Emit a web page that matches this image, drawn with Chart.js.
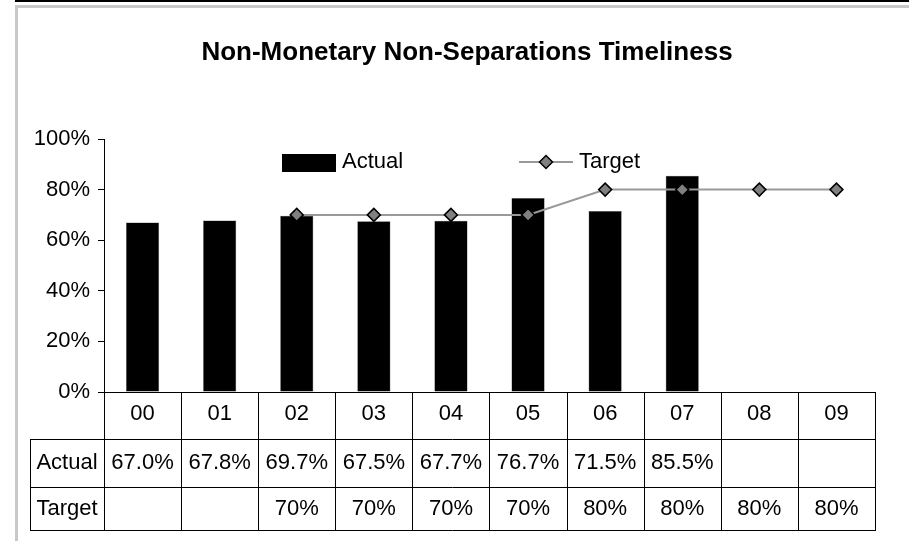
<!DOCTYPE html>
<html>
<head>
<meta charset="utf-8">
<style>
  html, body { margin: 0; padding: 0; background: #fff; }
  #wrap { width: 909px; height: 541px; }
</style>
</head>
<body>
<div id="wrap"><canvas id="myChart" width="909" height="541"></canvas></div>

<script src="https://cdn.jsdelivr.net/npm/chart.js"></script>
<script>
    // chart data
    const categories = ['00', '01', '02', '03', '04', '05', '06', '07', '08', '09']
    const actual = [67.0, 67.8, 69.7, 67.5, 67.7, 76.7, 71.5, 85.5, null, null]
    const target = [null, null, 70, 70, 70, 70, 80, 80, 80, 80]
    const yTicks = [0, 20, 40, 60, 80, 100]
    const titleText = 'Non-Monetary Non-Separations Timeliness'

    const FONT = '"Liberation Sans", Arial, sans-serif'

    // frame, title, legend and the data table under the axis
    const excelBits = {
        id: 'excelBits',
        beforeDraw(chart) {
            const c = chart.ctx
            c.save()
            c.fillStyle = '#fff'
            c.fillRect(0, 0, chart.width, chart.height)
            c.fillStyle = '#000'
            c.fillRect(15, 0, chart.width - 15, 2)
            c.strokeStyle = '#c8c8c8'
            c.lineWidth = 3
            c.strokeRect(16.5, 6.5, chart.width + 20, chart.height + 20)
            c.restore()
        },
        afterDraw(chart) {
            const c = chart.ctx
            const x = chart.scales.x
            const area = chart.chartArea
            c.save()

            // title
            c.fillStyle = '#000'
            c.font = 'bold 26px ' + FONT
            c.textAlign = 'center'
            c.textBaseline = 'middle'
            c.fillText(titleText, 467, 53)

            // legend
            c.font = '22px ' + FONT
            c.textAlign = 'left'
            c.fillStyle = '#000'
            c.fillRect(282, 154, 54, 18)
            c.fillText('Actual', 342, 162)
            c.strokeStyle = '#999'
            c.lineWidth = 2
            c.beginPath()
            c.moveTo(519, 162); c.lineTo(573, 162)
            c.stroke()
            c.beginPath()
            c.moveTo(546, 155.5); c.lineTo(552.5, 162); c.lineTo(546, 168.5); c.lineTo(539.5, 162)
            c.closePath()
            c.fillStyle = '#808080'
            c.fill()
            c.strokeStyle = '#000'
            c.lineWidth = 1.5
            c.stroke()
            c.fillStyle = '#000'
            c.fillText('Target', 579, 162)

            // data table
            const y0 = area.bottom, y1 = 439, y2 = 487, y3 = 530
            const labL = 30
            const half = (x.getPixelForValue(1) - x.getPixelForValue(0)) / 2
            c.strokeStyle = '#000'
            c.lineWidth = 1
            c.beginPath()
            c.moveTo(area.left, y0 + 0.5); c.lineTo(area.right, y0 + 0.5)
            ;[y1, y2, y3].forEach(yy => { c.moveTo(labL, yy + 0.5); c.lineTo(area.right, yy + 0.5) })
            c.moveTo(labL + 0.5, y1); c.lineTo(labL + 0.5, y3)
            for (let i = 0; i <= categories.length; i++) {
                const bx = Math.round(x.getPixelForValue(0) - half + i * half * 2) + 0.5
                c.moveTo(bx, y0); c.lineTo(bx, y3 + 1)
            }
            c.stroke()

            c.fillStyle = '#000'
            c.font = '22px ' + FONT
            c.textAlign = 'center'
            c.textBaseline = 'middle'
            c.fillText('Actual', (labL + area.left) / 2, (y1 + y2) / 2)
            c.fillText('Target', (labL + area.left) / 2, (y2 + y3) / 2)
            categories.forEach((cat, i) => {
                const cx = x.getPixelForValue(i)
                c.fillText(cat, cx, (y0 + y1) / 2 - 2)
                if (actual[i] != null) c.fillText(actual[i].toFixed(1) + '%', cx, (y1 + y2) / 2)
                if (target[i] != null) c.fillText(target[i] + '%', cx, (y2 + y3) / 2)
            })
            c.restore()
        }
    }

    var ctx = document.getElementById('myChart')

    var myChart = new Chart(ctx, {
        data: {
            labels: categories,
            datasets: [{
                type: 'line',
                label: 'Target',
                data: target,
                order: 1,
                borderColor: '#999999',
                borderWidth: 2,
                pointStyle: 'rectRot',
                pointRadius: 6.5,
                pointBackgroundColor: '#808080',
                pointBorderColor: '#000',
                pointBorderWidth: 1.5,
                tension: 0
            }, {
                type: 'bar',
                label: 'Actual',
                data: actual,
                order: 2,
                backgroundColor: '#000',
                borderColor: '#555',
                borderWidth: 0.5,
                barPercentage: 0.43,
                categoryPercentage: 1
            }]
        },
        options: {
            responsive: false,
            animation: false,
            devicePixelRatio: 1,
            layout: { padding: { left: 0, right: 34, top: 139, bottom: 149 } },
            plugins: {
                legend: { display: false },
                title: { display: false },
                tooltip: { enabled: false }
            },
            scales: {
                x: { display: false, offset: true },
                y: {
                    min: 0,
                    max: 100,
                    afterFit: s => { s.width = 104 },
                    afterBuildTicks: s => { s.ticks = yTicks.map(v => ({ value: v })) },
                    ticks: {
                        color: '#000',
                        padding: 8,
                        font: { family: FONT, size: 22 },
                        callback: v => v + '%'
                    },
                    grid: { drawOnChartArea: false, drawTicks: true, tickLength: 6, color: '#000' },
                    border: { color: '#000', width: 1 }
                }
            }
        },
        plugins: [excelBits]
    })
</script>
</body>
</html>
